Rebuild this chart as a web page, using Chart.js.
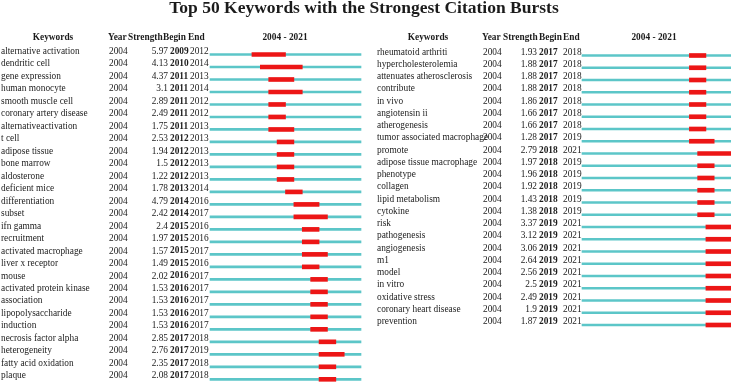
<!DOCTYPE html>
<html>
<head>
<meta charset="utf-8">
<script src="https://cdn.jsdelivr.net/npm/chart.js@4/dist/chart.umd.min.js"></script>
<style>
  html, body { margin: 0; padding: 0; background: #ffffff; }
  #wrap { position: relative; width: 731px; height: 382px; background: #ffffff; }
  canvas { position: absolute; left: 0; top: 0; }
</style>
</head>
<body>
<div id="wrap">
  <canvas id="cLeft" width="731" height="382"></canvas>
  <canvas id="cRight" width="731" height="382"></canvas>
</div>
<script>
// ---- data ----
const titleText = "Top 50 Keywords with the Strongest Citation Bursts";
const rangeLabel = "2004 - 2021";
const yearStart = 2004;
const yearEnd = 2021;

const leftKeywords = ["alternative activation","dendritic cell","gene expression","human monocyte","smooth muscle cell","coronary artery disease","alternativeactivation","t cell","adipose tissue","bone marrow","aldosterone","deficient mice","differentiation","subset","ifn gamma","recruitment","activated macrophage","liver x receptor","mouse","activated protein kinase","association","lipopolysaccharide","induction","necrosis factor alpha","heterogeneity","fatty acid oxidation","plaque"];
const leftYear = [2004,2004,2004,2004,2004,2004,2004,2004,2004,2004,2004,2004,2004,2004,2004,2004,2004,2004,2004,2004,2004,2004,2004,2004,2004,2004,2004];
const leftStrength = ["5.97","4.13","4.37","3.1","2.89","2.49","1.75","2.53","1.94","1.5","1.22","1.78","4.79","2.42","2.4","1.97","1.57","1.49","2.02","1.53","1.53","1.53","1.53","2.85","2.76","2.35","2.08"];
const leftBegin = [2009,2010,2011,2011,2011,2011,2011,2012,2012,2012,2012,2013,2014,2014,2015,2015,2015,2015,2016,2016,2016,2016,2016,2017,2017,2017,2017];
const leftEnd = [2012,2014,2013,2014,2012,2012,2013,2013,2013,2013,2013,2014,2016,2017,2016,2016,2017,2016,2017,2017,2017,2017,2017,2018,2019,2018,2018];

const rightKeywords = ["rheumatoid arthriti","hypercholesterolemia","attenuates atherosclerosis","contribute","in vivo","angiotensin ii","atherogenesis","tumor associated macrophage","promote","adipose tissue macrophage","phenotype","collagen","lipid metabolism","cytokine","risk","pathogenesis","angiogenesis","m1","model","in vitro","oxidative stress","coronary heart disease","prevention"];
const rightYear = [2004,2004,2004,2004,2004,2004,2004,2004,2004,2004,2004,2004,2004,2004,2004,2004,2004,2004,2004,2004,2004,2004,2004];
const rightStrength = ["1.93","1.88","1.88","1.88","1.86","1.66","1.66","1.28","2.79","1.97","1.96","1.92","1.43","1.38","3.37","3.12","3.06","2.64","2.56","2.5","2.49","1.9","1.87"];
const rightBegin = [2017,2017,2017,2017,2017,2017,2017,2017,2018,2018,2018,2018,2018,2018,2019,2019,2019,2019,2019,2019,2019,2019,2019];
const rightEnd = [2018,2018,2018,2018,2018,2018,2018,2019,2021,2019,2019,2019,2019,2019,2021,2021,2021,2021,2021,2021,2021,2021,2021];

// ---- styles ----
const CYAN = "rgb(92,198,200)";
const RED = "rgb(236,22,22)";
const TXT = "#1b1b1b";
const SERIF = '"Liberation Serif", "Times New Roman", serif';
const SX = 0.89; // horizontal squeeze of the small text

function txt(ctx, s, x, y, align, font) {
  ctx.save();
  ctx.font = font;
  ctx.textAlign = align;
  ctx.textBaseline = 'middle';
  ctx.translate(x, y);
  ctx.scale(SX, 1);
  ctx.fillText(s, 0, 0);
  ctx.restore();
}

function makePanel(canvasId, cfg) {
  const textPlugin = {
    id: 'panelText_' + canvasId,
    afterDraw(chart) {
      const ctx = chart.ctx;
      const ys = chart.scales.y;
      ctx.save();
      ctx.fillStyle = TXT;
      if (cfg.drawTitle) {
        ctx.font = 'bold 17.5px ' + SERIF;
        ctx.textAlign = 'center';
        ctx.textBaseline = 'alphabetic';
        ctx.fillText(titleText, 364, 13);
      }
      const hy = 37;
      const hb = 'bold 10.5px ' + SERIF;
      txt(ctx, 'Keywords', cfg.hKey, hy, 'center', hb);
      txt(ctx, rangeLabel, cfg.hRange, hy, 'center', hb);
      txt(ctx, 'Year', cfg.hYear, hy, 'left', hb);
      txt(ctx, 'Strength', cfg.hStr, hy, 'left', hb);
      txt(ctx, 'Begin', cfg.hBegin, hy, 'left', hb);
      txt(ctx, 'End', cfg.hEnd, hy, 'left', hb);
      const fr = '10.5px ' + SERIF;
      const fb = 'bold 10.5px ' + SERIF;
      cfg.keywords.forEach((k, i) => {
        const y = ys.getPixelForValue(i) - 3.6;
        txt(ctx, k, cfg.xKey, y, 'left', fr);
        txt(ctx, String(cfg.year[i]), cfg.xYear, y, 'left', fr);
        txt(ctx, cfg.strength[i], cfg.xStrR, y, 'right', fr);
        txt(ctx, String(cfg.begin[i]), cfg.xBegin, y, 'left', fb);
        txt(ctx, String(cfg.end[i]), cfg.xEnd, y, 'left', fr);
      });
      ctx.restore();
    }
  };

  return new Chart(document.getElementById(canvasId), {
    type: 'bar',
    data: {
      labels: cfg.keywords,
      datasets: [
        {
          label: 'burst',
          data: cfg.keywords.map((_, i) => [cfg.begin[i], cfg.end[i] + 1]),
          backgroundColor: RED,
          barThickness: 4,
          grouped: false,
          borderWidth: 0,
          clip: false,
          order: 0
        },
        {
          label: 'span',
          data: cfg.keywords.map(() => [yearStart, yearEnd + 1]),
          backgroundColor: CYAN,
          barThickness: 2,
          grouped: false,
          borderWidth: 0,
          clip: false,
          order: 1
        }
      ]
    },
    options: {
      indexAxis: 'y',
      responsive: false,
      animation: false,
      devicePixelRatio: 1,
      layout: { padding: cfg.padding },
      scales: {
        x: { type: 'linear', min: yearStart, max: yearEnd + 1, display: false },
        y: { type: 'category', offset: false, display: false }
      },
      plugins: { legend: { display: false }, tooltip: { enabled: false } }
    },
    plugins: [textPlugin]
  });
}

makePanel('cLeft', {
  keywords: leftKeywords, year: leftYear, strength: leftStrength, begin: leftBegin, end: leftEnd,
  padding: { left: 210, right: 731 - 361, top: 54.5, bottom: 382 - 379.3 },
  drawTitle: true,
  hKey: 53, hRange: 285, hYear: 108, hStr: 128, hBegin: 163, hEnd: 188,
  xKey: 1, xYear: 109, xStrR: 168, xBegin: 170, xEnd: 190
});

makePanel('cRight', {
  keywords: rightKeywords, year: rightYear, strength: rightStrength, begin: rightBegin, end: rightEnd,
  padding: { left: 582, right: 0.3, top: 55.5, bottom: 382 - 325 },
  drawTitle: false,
  hKey: 428, hRange: 654, hYear: 482, hStr: 503, hBegin: 539, hEnd: 563,
  xKey: 377, xYear: 483, xStrR: 537, xBegin: 539, xEnd: 563
});
</script>
</body>
</html>
